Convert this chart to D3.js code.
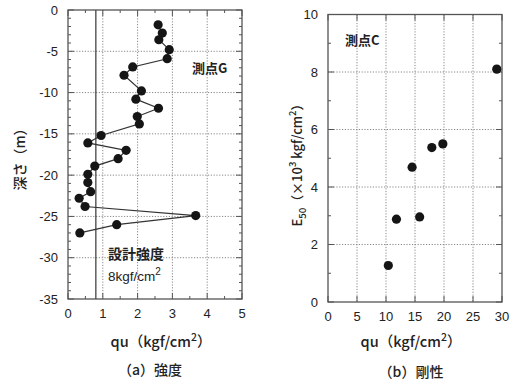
<!DOCTYPE html>
<html><head><meta charset="utf-8">
<script src="https://cdn.jsdelivr.net/npm/d3@7"></script>
<style>
body{margin:0;background:#fff;}
svg text{font-family:"Liberation Sans",Arial,sans-serif;fill:#222;}
.jp{font-family:"Noto Sans CJK JP",sans-serif;font-weight:500;}
.jb{font-family:"Noto Sans CJK JP",sans-serif;font-weight:700;}
</style></head><body>
<svg id="c" width="519" height="382"></svg>
<script>
// (a) strength profile: unconfined compressive strength vs depth
const depthA = [-1.8,-2.8,-3.6,-4.8,-5.9,-6.9,-7.9,-9.8,-10.8,-11.9,-12.9,-13.8,-15.2,-16.1,-17.0,-18.0,-18.9,-19.9,-20.9,-22.0,-22.8,-23.8,-24.9,-26.0,-27.0];
const quA    = [2.59,2.71,2.61,2.91,2.85,1.86,1.61,2.11,1.95,2.60,1.99,2.05,0.95,0.57,1.67,1.44,0.77,0.57,0.57,0.65,0.32,0.49,3.67,1.40,0.34];
const designQu = 0.8;
const ticksAx = [0,1,2,3,4,5];
const ticksAy = [0,-5,-10,-15,-20,-25,-30,-35];

// (b) stiffness: E50 vs qu
const quB  = [10.4,11.8,14.5,15.8,17.9,19.8,29.1];
const e50B = [1.27,2.88,4.69,2.96,5.37,5.50,8.10];
const ticksBx = [0,5,10,15,20,25,30];
const ticksBy = [0,2,4,6,8,10];

const svg = d3.select("#c");
const frame = "#555", grid = "#888";

function panel(xs, ys, xTicks, yTicks, xMinor, yMinor){
  const g = svg.append("g");
  const [x0,x1] = xs.range(), [y1,y0] = ys.range();
  // dotted grid
  g.selectAll(".gx").data(xTicks.slice(1,-1)).join("line")
    .attr("x1",d=>xs(d)).attr("x2",d=>xs(d)).attr("y1",y0).attr("y2",y1)
    .attr("stroke",grid).attr("stroke-width",1).attr("stroke-dasharray","1.2,1.6");
  g.selectAll(".gy").data(yTicks.slice(1,-1)).join("line")
    .attr("y1",d=>ys(d)).attr("y2",d=>ys(d)).attr("x1",x0).attr("x2",x1)
    .attr("stroke",grid).attr("stroke-width",1).attr("stroke-dasharray","1.2,1.6");
  // inward ticks on all four sides
  const tk = (vals,len,isX)=>{
    vals.forEach(v=>{
      if(isX){
        g.append("line").attr("x1",xs(v)).attr("x2",xs(v)).attr("y1",y1).attr("y2",y1-len).attr("stroke",frame);
        g.append("line").attr("x1",xs(v)).attr("x2",xs(v)).attr("y1",y0).attr("y2",y0+len).attr("stroke",frame);
      } else {
        g.append("line").attr("y1",ys(v)).attr("y2",ys(v)).attr("x1",x0).attr("x2",x0+len).attr("stroke",frame);
        g.append("line").attr("y1",ys(v)).attr("y2",ys(v)).attr("x1",x1).attr("x2",x1-len).attr("stroke",frame);
      }
    });
  };
  tk(xTicks,6,true); tk(yTicks,6,false);
  tk(xMinor,3,true); tk(yMinor,3,false);
  g.append("rect").attr("x",x0).attr("y",y0).attr("width",x1-x0).attr("height",y1-y0)
    .attr("fill","none").attr("stroke",frame).attr("stroke-width",1.3);
  // tick labels
  g.selectAll(".lx").data(xTicks).join("text").attr("x",d=>xs(d)).attr("y",y1+19)
    .attr("text-anchor","middle").attr("font-size",13).text(d=>d);
  g.selectAll(".ly").data(yTicks).join("text").attr("x",x0-10).attr("y",d=>ys(d)+4.5)
    .attr("text-anchor","end").attr("font-size",13).text(d=>d);
  return g;
}

function quLabel(g,cx,y){
  const t = g.append("text").attr("class","jp").attr("x",cx).attr("y",y).attr("text-anchor","middle").attr("font-size",14.5);
  t.append("tspan").text("qu（kgf/cm");
  t.append("tspan").attr("dy",-6).attr("font-size",10.5).text("2");
  t.append("tspan").attr("dy",6).text("）");
}

// ---- panel (a)
const xA = d3.scaleLinear().domain([0,5]).range([68,242]);
const yA = d3.scaleLinear().domain([-35,0]).range([299,10]);
const gA = panel(xA,yA,ticksAx,ticksAy,d3.range(0.5,5,1),d3.range(-1,-35,-1).filter(v=>v%5!==0));
gA.append("line").attr("x1",xA(designQu)).attr("x2",xA(designQu)).attr("y1",yA(0)).attr("y2",yA(-35))
  .attr("stroke","#444").attr("stroke-width",1.3);
const ptsA = depthA.map((d,i)=>[quA[i],d]);
gA.append("path").datum(ptsA).attr("fill","none").attr("stroke","#333").attr("stroke-width",1.2)
  .attr("d",d3.line().x(d=>xA(d[0])).y(d=>yA(d[1])));
gA.selectAll(".pa").data(ptsA).join("circle").attr("cx",d=>xA(d[0])).attr("cy",d=>yA(d[1]))
  .attr("r",4.6).attr("fill","#151515");
gA.append("text").attr("class","jb").attr("x",192).attr("y",73).attr("font-size",13).text("測点G");
gA.append("text").attr("class","jb").attr("x",108).attr("y",259).attr("font-size",14).text("設計強度");
const t8 = gA.append("text").attr("x",108).attr("y",281).attr("font-size",13.5);
t8.append("tspan").text("8kgf/cm");
t8.append("tspan").attr("dy",-6).attr("font-size",10).text("2");
quLabel(gA,161,347);
gA.append("text").attr("class","jp").attr("x",150).attr("y",375).attr("text-anchor","middle").attr("font-size",14).text("（a）強度");
gA.append("text").attr("class","jp").attr("transform","translate(25,156) rotate(-90)")
  .attr("text-anchor","middle").attr("font-size",14).text("深さ（m）");

// ---- panel (b)
const xB = d3.scaleLinear().domain([0,30]).range([328,502]);
const yB = d3.scaleLinear().domain([0,10]).range([302,14.5]);
const gB = panel(xB,yB,ticksBx,ticksBy,[],d3.range(1,10,2));
gB.selectAll(".pb").data(quB.map((q,i)=>[q,e50B[i]])).join("circle")
  .attr("cx",d=>xB(d[0])).attr("cy",d=>yB(d[1])).attr("r",4.6).attr("fill","#151515");
gB.append("text").attr("class","jb").attr("x",345).attr("y",45).attr("font-size",13).text("測点C");
quLabel(gB,411,347);
gB.append("text").attr("class","jp").attr("x",411).attr("y",377).attr("text-anchor","middle").attr("font-size",14).text("（b）剛性");
const labBy = gB.append("text").attr("class","jp").attr("transform","translate(302,162) rotate(-90)")
  .attr("text-anchor","middle").attr("font-size",13);
labBy.append("tspan").text("E");
labBy.append("tspan").attr("dy",4).attr("font-size",9.5).text("50");
labBy.append("tspan").attr("dy",-4).text("（×10");
labBy.append("tspan").attr("dy",-6).attr("font-size",9.5).text("3");
labBy.append("tspan").attr("dy",6).text(" kgf/cm");
labBy.append("tspan").attr("dy",-6).attr("font-size",9.5).text("2");
labBy.append("tspan").attr("dy",6).text("）");
</script></body></html>
